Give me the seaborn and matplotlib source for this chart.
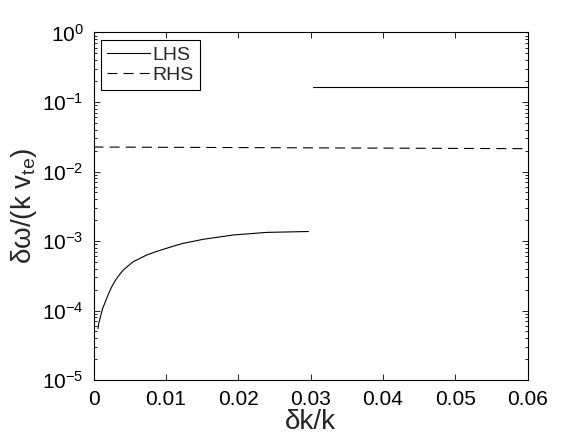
import numpy as np
import pandas as pd
import matplotlib
matplotlib.use('Agg')
import matplotlib.pyplot as plt
import seaborn as sns
from matplotlib.ticker import LogLocator

# values
lhs_x = [0.00062, 0.00072, 0.0009, 0.00108, 0.00127, 0.00155, 0.00182, 0.00214,
         0.00252, 0.00283, 0.00321, 0.00366, 0.00412, 0.00481, 0.0055, 0.00643,
         0.00735, 0.0085, 0.00965, 0.0110, 0.0124, 0.0138, 0.0152, 0.0193,
         0.0239, 0.0297]
lhs_y = [5.5e-5, 6.55e-5, 7.7e-5, 9.1e-5, 1.08e-4, 1.27e-4, 1.50e-4, 1.80e-4,
         2.20e-4, 2.51e-4, 2.90e-4, 3.35e-4, 3.83e-4, 4.41e-4, 5.04e-4, 5.64e-4,
         6.29e-4, 6.95e-4, 7.6e-4, 8.4e-4, 9.27e-4, 9.9e-4, 1.06e-3, 1.22e-3,
         1.33e-3, 1.37e-3]
lhs_hi_x = [0.0303, 0.06]
lhs_hi_y = [0.167, 0.167]
rhs_x = [0.0, 0.03, 0.06]
rhs_y = [0.0225, 0.0219, 0.0213]

sns.set_style('ticks')
plt.rcParams['font.family'] = ['Liberation Sans', 'DejaVu Sans']
plt.rcParams['mathtext.fontset'] = 'custom'
plt.rcParams['mathtext.rm'] = 'Liberation Sans'
plt.rcParams['mathtext.it'] = 'Liberation Sans:italic'

fig = plt.figure(figsize=(5.82, 4.38), dpi=100)
ax = fig.add_axes([0.1607, 0.1324, 0.7460, 0.7934])

sns.lineplot(x=lhs_x, y=lhs_y, ax=ax, color='k', lw=0.8, label='LHS')
sns.lineplot(x=rhs_x, y=rhs_y, ax=ax, color='k', lw=0.8, label='RHS',
             linestyle=(0, (9, 5.5)))
sns.lineplot(x=lhs_hi_x, y=lhs_hi_y, ax=ax, color='k', lw=0.8)

ax.set_yscale('log')
ax.set_xlim(0, 0.06)
ax.set_ylim(1e-5, 1)
ax.set_xticks([0, 0.01, 0.02, 0.03, 0.04, 0.05, 0.06])
ax.set_xticklabels(['0', '0.01', '0.02', '0.03', '0.04', '0.05', '0.06'])
ax.yaxis.set_major_locator(LogLocator(base=10, numticks=10))
ax.yaxis.set_minor_locator(LogLocator(base=10, subs=np.arange(2, 10), numticks=20))

for s in ax.spines.values():
    s.set_visible(True)
    s.set_linewidth(0.8)
    s.set_color('k')
ax.tick_params(which='both', direction='in', top=True, right=True,
               labelsize=15, colors='k', width=0.6)
ax.tick_params(which='major', length=4, pad=7)
ax.tick_params(which='minor', length=2)

ax.set_xlabel('δk/k', fontsize=20, labelpad=0)
ax.set_ylabel(r'δω/(k $\mathrm{v_{te}}$)', fontsize=20, labelpad=2)

leg = ax.legend(loc='upper left', fontsize=14, frameon=True, fancybox=False,
                edgecolor='k', framealpha=1, borderaxespad=0.4,
                handlelength=2.2, handletextpad=0.15, borderpad=0.3,
                labelspacing=0.15)
leg.get_frame().set_linewidth(0.8)

fig.savefig('out.png', dpi=100)
